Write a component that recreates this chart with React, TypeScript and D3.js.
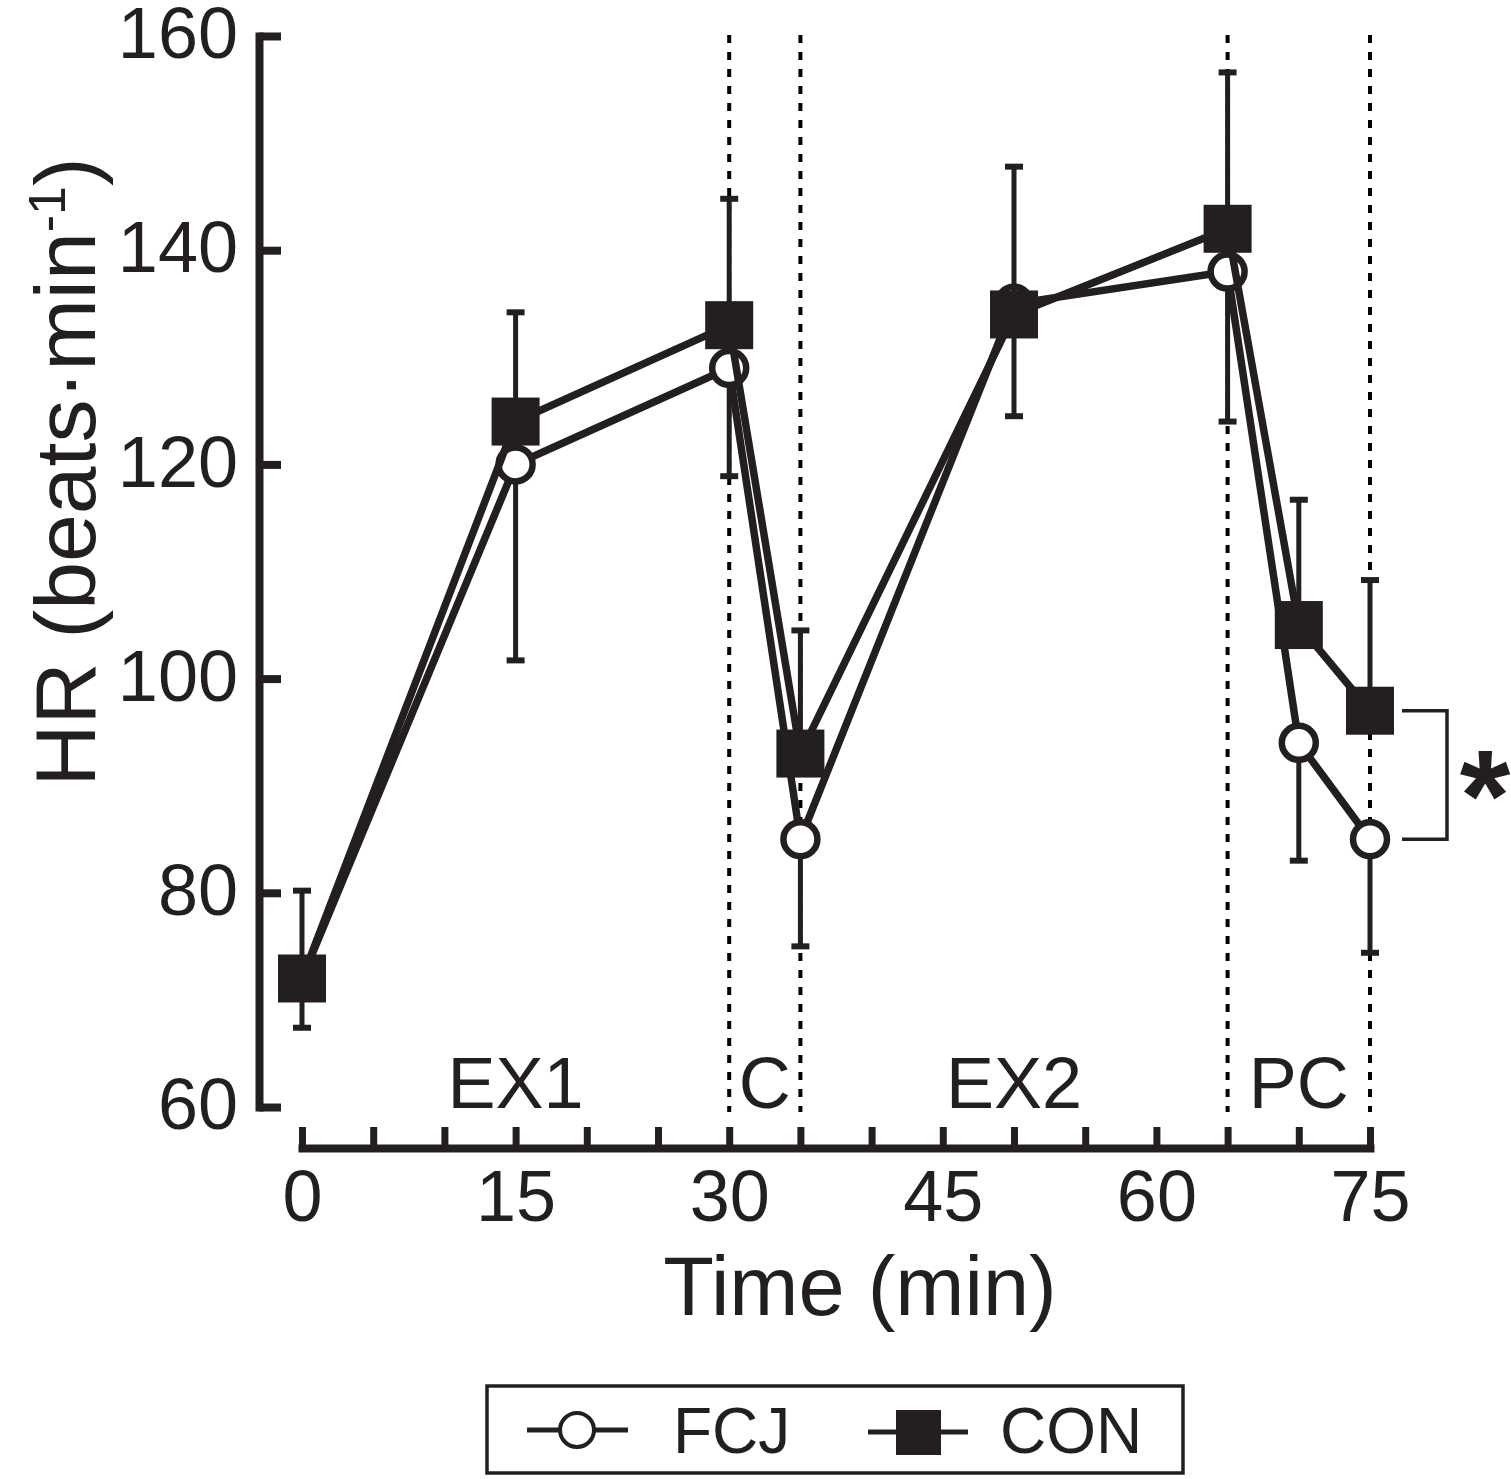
import * as d3 from 'd3';
import { useEffect, useRef } from 'react';

// time points (min)
const times = [0, 15, 30, 35, 50, 65, 70, 75];
// mean HR, beats/min
const fcjMean = [72, 120, 129, 85, 135, 138, 94, 85];
const conMean = [72, 124, 133, 93, 134, 142, 105, 97];
// end of the one-sided error bars (FCJ drawn down, CON drawn up)
const fcjLow = [67.4, 101.7, 118.9, 75, 124.5, 124, 83, 74.4];
const conHigh = [80.2, 134.2, 144.8, 104.5, 147.8, 156.6, 116.7, 109.2];

const yTicks = [60, 80, 100, 120, 140, 160];
const xTicks = d3.range(0, 80, 5);
const xLabels = [0, 15, 30, 45, 60, 75];

const phaseBounds = [30, 35, 65, 75];
const phaseNames = ['EX1', 'C', 'EX2', 'PC'];
const phaseCentres = [15, 32.5, 50, 70];

const ink = '#231f20';
const font = '"Liberation Sans", Arial, Helvetica, sans-serif';

export default function App() {
  const ref = useRef<SVGSVGElement>(null);

  const width = 1511;
  const height = 1479;

  useEffect(() => {
    const svg = d3.select(ref.current);
    svg.selectAll('*').remove();

    const x = d3.scaleLinear([0, 75], [302, 1370]);
    const y = d3.scaleLinear([60, 160], [1107, 36]);
    const xAxisY = 1148;
    const yAxisX = 259;

    // y axis, ticks pointing into the plot
    svg
      .append('g')
      .attr('transform', `translate(${yAxisX},0)`)
      .call(
        d3
          .axisLeft(y)
          .tickValues(yTicks)
          .tickSizeInner(-22)
          .tickSizeOuter(0)
          .tickPadding(21)
      )
      .call((g) =>
        g
          .select('.domain')
          .attr('stroke', ink)
          .attr('stroke-width', 8)
          .attr('stroke-linecap', 'square')
      )
      .call((g) => g.selectAll('.tick line').attr('stroke', ink).attr('stroke-width', 8))
      .call((g) =>
        g
          .selectAll('.tick text')
          .attr('fill', ink)
          .attr('font-family', font)
          .attr('font-size', 72)
          .attr('dy', '0.3em')
      );

    // x axis, minor ticks every 5 min
    svg
      .append('g')
      .attr('transform', `translate(0,${xAxisY})`)
      .call(
        d3
          .axisBottom(x)
          .tickValues(xTicks)
          .tickFormat((d) => (xLabels.includes(+d) ? String(d) : ''))
          .tickSizeInner(-21)
          .tickSizeOuter(0)
          .tickPadding(22)
      )
      .call((g) =>
        g
          .select('.domain')
          .attr('stroke', ink)
          .attr('stroke-width', 8)
          .attr('stroke-linecap', 'square')
      )
      .call((g) => g.selectAll('.tick line').attr('stroke', ink).attr('stroke-width', 7))
      .call((g) =>
        g
          .selectAll('.tick text')
          .attr('fill', ink)
          .attr('font-family', font)
          .attr('font-size', 72)
      );

    // phase separators
    svg
      .append('g')
      .selectAll('line')
      .data(phaseBounds)
      .join('line')
      .attr('x1', (d) => x(d))
      .attr('x2', (d) => x(d))
      .attr('y1', y(160) - 1)
      .attr('y2', xAxisY - 36)
      .attr('stroke', '#000')
      .attr('stroke-width', 4)
      .attr('stroke-dasharray', '8 9');

    svg
      .append('g')
      .selectAll('text')
      .data(phaseNames)
      .join('text')
      .attr('x', (_, i) => x(phaseCentres[i]))
      .attr('y', 1108)
      .attr('text-anchor', 'middle')
      .attr('font-family', font)
      .attr('font-size', 72)
      .attr('fill', ink)
      .text((d) => d);

    const line = d3
      .line<number>()
      .x((_, i) => x(times[i]))
      .y((d) => y(d));

    const errorBars = (g, means: number[], ends: number[]) => {
      const bars = g
        .append('g')
        .selectAll('g')
        .data(times)
        .join('g')
        .attr('stroke', ink);
      bars
        .append('line')
        .attr('x1', (d) => x(d))
        .attr('x2', (d) => x(d))
        .attr('y1', (_, i) => y(means[i]))
        .attr('y2', (_, i) => y(ends[i]))
        .attr('stroke-width', 5);
      bars
        .append('line')
        .attr('x1', (d) => x(d) - 9)
        .attr('x2', (d) => x(d) + 9)
        .attr('y1', (_, i) => y(ends[i]))
        .attr('y2', (_, i) => y(ends[i]))
        .attr('stroke-width', 6);
    };

    // FCJ: open circles
    const fcj = svg.append('g');
    errorBars(fcj, fcjMean, fcjLow);
    fcj
      .append('path')
      .attr('d', line(fcjMean))
      .attr('fill', 'none')
      .attr('stroke', ink)
      .attr('stroke-width', 7.5);
    fcj
      .append('g')
      .selectAll('circle')
      .data(fcjMean)
      .join('circle')
      .attr('cx', (_, i) => x(times[i]))
      .attr('cy', (d) => y(d))
      .attr('r', 17)
      .attr('fill', '#fff')
      .attr('stroke', ink)
      .attr('stroke-width', 6.5);

    // CON: filled squares
    const con = svg.append('g');
    errorBars(con, conMean, conHigh);
    con
      .append('path')
      .attr('d', line(conMean))
      .attr('fill', 'none')
      .attr('stroke', ink)
      .attr('stroke-width', 7.5);
    con
      .append('g')
      .selectAll('rect')
      .data(conMean)
      .join('rect')
      .attr('x', (_, i) => x(times[i]) - 24)
      .attr('y', (d) => y(d) - 24)
      .attr('width', 48)
      .attr('height', 48)
      .attr('fill', ink);

    // significance bracket at 75 min
    const last = times.length - 1;
    const bx = x(times[last]);
    svg
      .append('path')
      .attr(
        'd',
        `M${bx + 32},${y(conMean[last])}H${bx + 77}V${y(fcjMean[last])}H${bx + 32}`
      )
      .attr('fill', 'none')
      .attr('stroke', ink)
      .attr('stroke-width', 3.5);
    svg
      .append('text')
      .attr('x', bx + 115)
      .attr('y', (y(conMean[last]) + y(fcjMean[last])) / 2 + 66)
      .attr('text-anchor', 'middle')
      .attr('font-family', font)
      .attr('font-weight', 'bold')
      .attr('font-size', 130)
      .attr('fill', ink)
      .text('*');

    // axis titles
    svg
      .append('text')
      .attr('x', 860)
      .attr('y', 1315)
      .attr('text-anchor', 'middle')
      .attr('font-family', font)
      .attr('font-size', 83)
      .attr('fill', ink)
      .text('Time (min)');

    const yTitle = svg
      .append('text')
      .attr('transform', 'translate(95,472) rotate(-90)')
      .attr('text-anchor', 'middle')
      .attr('font-family', font)
      .attr('font-size', 86)
      .attr('fill', ink);
    yTitle.append('tspan').text('HR (beats\u00b7min');
    yTitle.append('tspan').attr('dy', -30).attr('font-size', 52).text('-1');
    yTitle.append('tspan').attr('dy', 30).text(')');

    // legend
    const legend = svg.append('g');
    legend
      .append('rect')
      .attr('x', 487)
      .attr('y', 1386)
      .attr('width', 696)
      .attr('height', 87)
      .attr('fill', 'none')
      .attr('stroke', ink)
      .attr('stroke-width', 3.5);
    legend
      .append('line')
      .attr('x1', 527)
      .attr('x2', 628)
      .attr('y1', 1430)
      .attr('y2', 1430)
      .attr('stroke', ink)
      .attr('stroke-width', 5);
    legend
      .append('circle')
      .attr('cx', 577)
      .attr('cy', 1430)
      .attr('r', 17)
      .attr('fill', '#fff')
      .attr('stroke', ink)
      .attr('stroke-width', 4);
    legend
      .append('line')
      .attr('x1', 868)
      .attr('x2', 968)
      .attr('y1', 1432)
      .attr('y2', 1432)
      .attr('stroke', ink)
      .attr('stroke-width', 5);
    legend
      .append('rect')
      .attr('x', 896)
      .attr('y', 1410)
      .attr('width', 45)
      .attr('height', 45)
      .attr('fill', ink);
    legend
      .selectAll('text')
      .data([
        ['FCJ', 673],
        ['CON', 1000],
      ])
      .join('text')
      .attr('x', (d) => d[1])
      .attr('y', 1453)
      .attr('font-family', font)
      .attr('font-size', 64)
      .attr('fill', ink)
      .text((d) => d[0]);
  }, []);

  return (
    <svg
      ref={ref}
      width={width}
      height={height}
      style={{ position: 'absolute', left: 0, top: 0, background: '#fff' }}
    ></svg>
  );
}
